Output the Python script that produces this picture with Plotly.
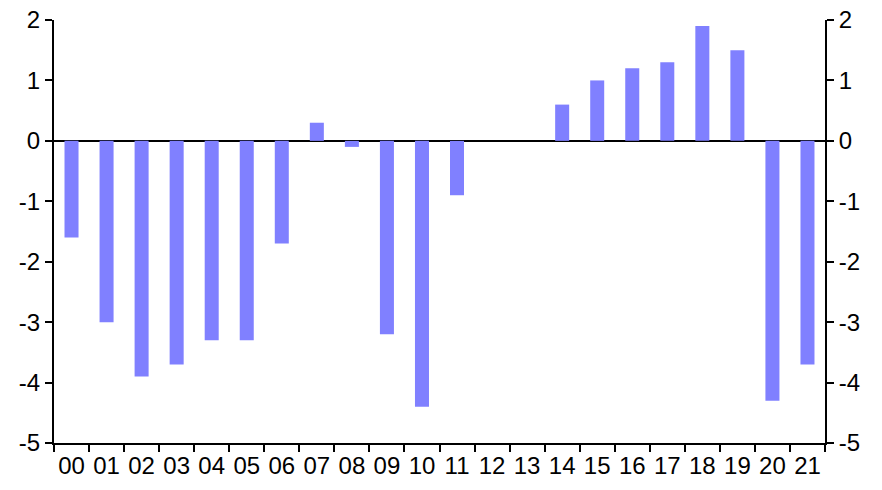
import plotly.graph_objects as go

years = ["00","01","02","03","04","05","06","07","08","09","10",
         "11","12","13","14","15","16","17","18","19","20","21"]
values = [-1.6,-3.0,-3.9,-3.7,-3.3,-3.3,-1.7,0.3,-0.1,-3.2,-4.4,
          -0.9,0.0,0.0,0.6,1.0,1.2,1.3,1.9,1.5,-4.3,-3.7]
y_ticks = [2,1,0,-1,-2,-3,-4,-5]
y_labels = ["2","1","0","-1","-2","-3","-4","-5"]

fig = go.Figure()
fig.add_trace(go.Bar(x=years, y=values, marker_color="#8080FF",
                     marker_line_width=0, width=0.4, showlegend=False))
fig.add_trace(go.Bar(x=years, y=[None]*len(years), yaxis="y2",
                     showlegend=False, hoverinfo="skip"))

font = dict(family="Liberation Sans, Arial, sans-serif", size=24, color="black")
yax = dict(range=[-5, 2], tickvals=y_ticks, ticktext=y_labels,
           ticks="outside", ticklen=7,
           tickwidth=2, tickcolor="black", showline=True, linewidth=2,
           linecolor="black", showgrid=False, tickfont=font, automargin=False)
fig.update_layout(
    width=882, height=490,
    margin=dict(l=54, r=57, t=20, b=47),
    plot_bgcolor="white", paper_bgcolor="white",
    bargap=0.6,
    xaxis=dict(type="category", tickson="boundaries", ticks="outside",
               ticklen=7, tickwidth=2, tickcolor="black", showline=True,
               linewidth=2, linecolor="black", showgrid=False, tickfont=font,
               tickangle=0, range=[-0.5, 21.5], automargin=False),
    yaxis=dict(**yax, zeroline=True, zerolinecolor="black", zerolinewidth=2),
    yaxis2=dict(**yax, overlaying="y", side="right", zeroline=False),
)
fig.write_html("out.html", config={"displayModeBar": False},
               post_script="document.body.style.margin='0px';document.body.style.overflow='hidden';")
